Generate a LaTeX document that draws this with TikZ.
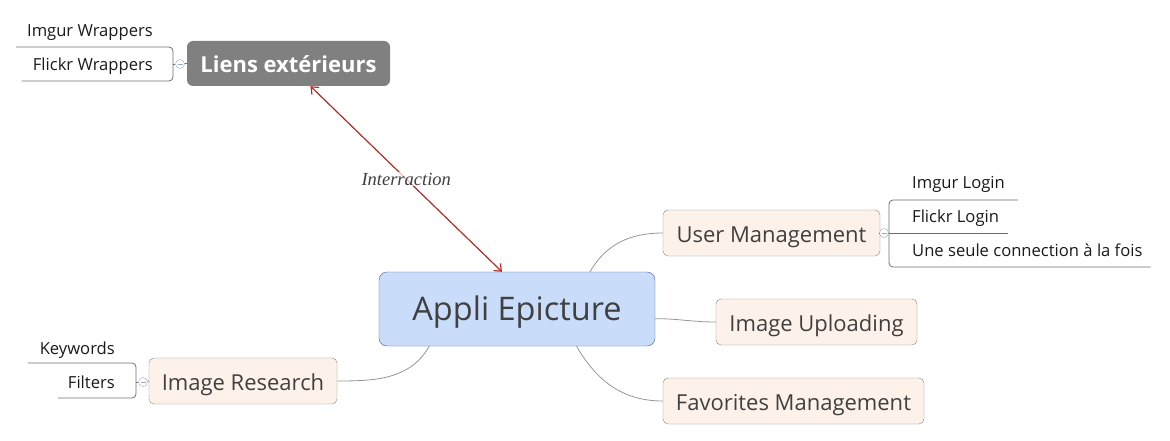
\documentclass[tikz,border=0pt]{standalone}
\usepackage{fontspec}
\setmainfont{Open Sans}
\newfontfamily\relfont{Liberation Serif}
\usepackage{tikz}
\usetikzlibrary{positioning}
\usetikzlibrary{arrows.meta}
\pgfdeclarelayer{nodelayer}
\pgfdeclarelayer{edgelayer}
\pgfsetlayers{nodelayer,edgelayer,main}
\definecolor{centrefill}{RGB}{201,220,250}
\definecolor{centreline}{RGB}{75,98,150}
\definecolor{topicfill}{RGB}{253,242,233}
\definecolor{topicline}{RGB}{140,132,128}
\definecolor{linkfill}{RGB}{128,128,128}
\definecolor{textgray}{RGB}{64,64,64}
\definecolor{branchgray}{RGB}{150,150,150}
\definecolor{subgray}{RGB}{110,110,110}
\definecolor{foldgray}{RGB}{160,170,190}
\definecolor{relred}{RGB}{178,44,40}

\begin{document}
\begin{tikzpicture}[x=1pt, y=-1pt,
  centre/.style={draw=centreline, fill=centrefill, rounded corners=8pt, minimum width=276pt, minimum height=74pt, inner sep=0pt, text height=22pt, text depth=0pt, text=textgray, font=\fontsize{32.5}{38}\selectfont},
  topic/.style={draw=topicline, fill=topicfill, rounded corners=5pt, minimum height=46pt, inner sep=0pt, text height=18pt, text depth=0pt, text=textgray, font=\fontsize{22}{26}\selectfont},
  link/.style={fill=linkfill, rounded corners=6pt, minimum width=203pt, minimum height=45pt, inner sep=0pt, text height=18pt, text depth=0pt, text=white, font=\fontsize{22}{26}\selectfont\bfseries},
  sub/.style={inner sep=0pt, text=black!90, font=\fontsize{16.6}{20}\selectfont},
  fold/.style={circle, draw=foldgray, fill=white, inner sep=0pt, minimum size=9pt,
    path picture={\draw[foldgray] ([xshift=-2.5pt]path picture bounding box.center) -- ([xshift=2.5pt]path picture bounding box.center);}},
  branch/.style={draw=branchgray, line width=0.8pt},
  subline/.style={draw=subgray, line width=0.8pt, rounded corners=4pt},
  relation/.style={draw=relred, line width=1.2pt, {Straight Barb[length=6pt, width=10pt]}-{Straight Barb[length=6pt, width=10pt]}},
  rellabel/.style={fill=white, fill opacity=0.7, text opacity=1, text=textgray, inner sep=1pt, font=\fontsize{18.5}{22}\selectfont\relfont\itshape}]
  \useasboundingbox (0, 0) rectangle (1170, 441);
  \begin{pgfonlayer}{nodelayer}
    \node [centre] (0) at (517, 309) {Appli Epicture};
    \node [topic, minimum width=217pt] (1) at (771.5, 233) {User Management};
    \node [topic, minimum width=201pt] (2) at (816.5, 322) {Image Uploading};
    \node [topic, minimum width=261pt] (3) at (793.5, 401) {Favorites Management};
    \node [topic, minimum width=188pt] (4) at (243, 381) {Image Research};
    \node [link] (5) at (288.5, 63.5) {Liens extérieurs};
    \node [sub, anchor=base west] (6) at (912, 189) {Imgur Login};
    \node [sub, anchor=base west] (7) at (912, 222) {Flickr Login};
    \node [sub, anchor=base west] (8) at (912, 256) {Une seule connection à la fois};
    \node [sub, anchor=base east] (9) at (153, 37) {Imgur Wrappers};
    \node [sub, anchor=base east] (10) at (153, 71) {Flickr Wrappers};
    \node [sub, anchor=base east] (11) at (115, 354) {Keywords};
    \node [sub, anchor=base east] (12) at (115, 388) {Filters};
    \node [fold] (13) at (884, 233) {};
    \node [fold] (14) at (180, 64) {};
    \node [fold] (15) at (143, 382) {};
    \coordinate (16) at (889, 233);
    \coordinate (17) at (173, 64);
    \coordinate (18) at (136, 382);
  \end{pgfonlayer}
  \begin{pgfonlayer}{edgelayer}
    % main branches
    \draw [branch] (0.27.5) to [out=60, in=180] (1.west);
    \draw [branch] (0.-4.6) to [out=0, in=180] (2.west);
    \draw [branch] (0.-32.5) to [out=-60, in=180] (3.west);
    \draw [branch] (0.-157.4) to [out=-120, in=0] (4.east);
    % sub topics
    \draw [subline] (1.east) -- (13);
    \draw [subline] (13) -- (16);
    \draw [subline] ([shift={(13pt,-11pt)}]6.base east) -- ([shift={(-23pt,-11pt)}]6.base west) -- ([shift={(-23pt,-11pt)}]8.base west) -- ([shift={(8pt,-11pt)}]8.base east);
    \draw [subline] (16) -- ([shift={(9pt,-11pt)}]7.base east);
    \draw [subline] (5.west) -- (14);
    \draw [subline] (14) -- (17);
    \draw [subline] ([shift={(-11pt,-10pt)}]9.base west) -- ([shift={(20pt,-10pt)}]9.base east) -- ([shift={(20pt,-10pt)}]10.base east) -- ([shift={(-11pt,-10pt)}]10.base west);
    \draw [subline] (4.west) -- (15);
    \draw [subline] (15) -- (18);
    \draw [subline] ([shift={(-12pt,-9pt)}]11.base west) -- ([shift={(21pt,-9pt)}]11.base east) -- ([shift={(21pt,-10pt)}]12.base east) -- ([shift={(-10pt,-10pt)}]12.base west);
    % relation
    \draw [relation] (5.-46) -- node [rellabel] {Interraction} (0.112);
  \end{pgfonlayer}
\end{tikzpicture}
\end{document}
